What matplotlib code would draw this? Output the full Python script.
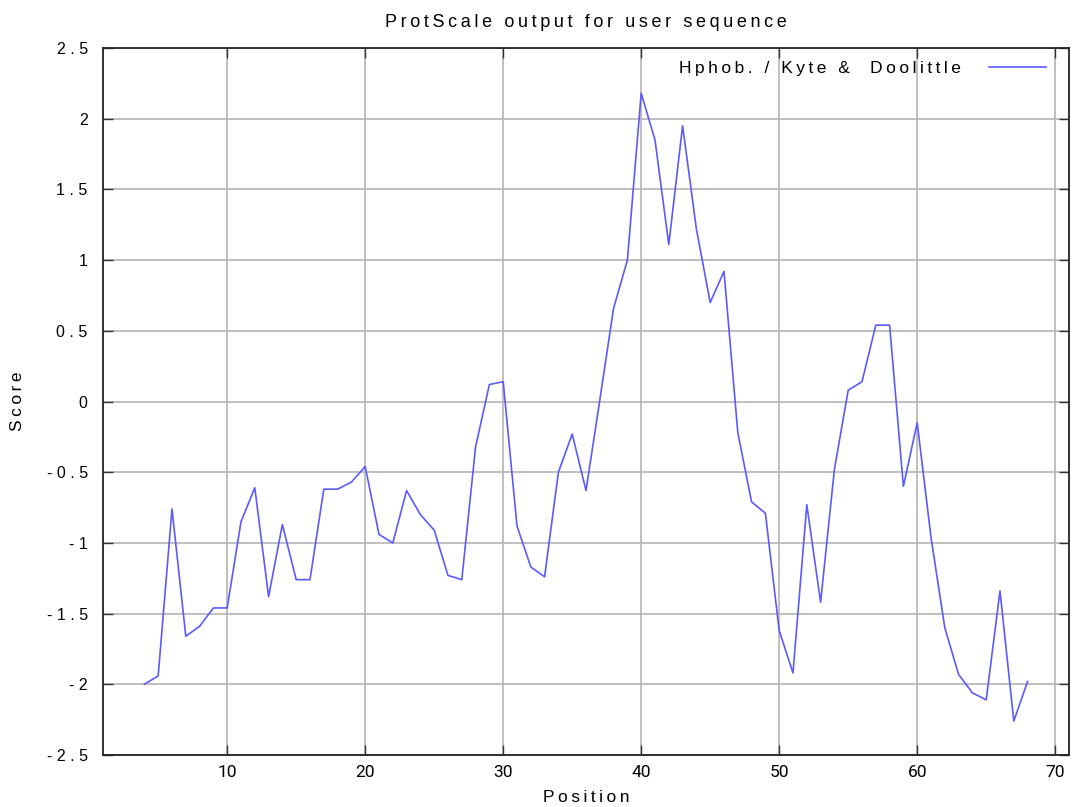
import matplotlib
matplotlib.use("Agg")
import matplotlib.pyplot as plt
from matplotlib.ticker import FixedLocator

# ---- data ----
positions = [4, 5, 6, 7, 8, 9, 10, 11, 12, 13, 14, 15, 16, 17, 18, 19, 20,
             21, 22, 23, 24, 25, 26, 27, 28, 29, 30, 31, 32, 33, 34, 35, 36,
             37, 38, 39, 40, 41, 42, 43, 44, 45, 46, 47, 48, 49, 50, 51, 52,
             53, 54, 55, 56, 57, 58, 59, 60, 61, 62, 63, 64, 65, 66, 67, 68]
scores = [-2.00, -1.94, -0.76, -1.66, -1.59, -1.46, -1.46, -0.85, -0.61, -1.38,
          -0.87, -1.26, -1.26, -0.62, -0.62, -0.57, -0.46, -0.94, -1.00, -0.63,
          -0.80, -0.91, -1.23, -1.26, -0.32, 0.12, 0.14, -0.88, -1.17, -1.24,
          -0.50, -0.23, -0.63, 0.01, 0.66, 1.00, 2.18, 1.85, 1.11, 1.95,
          1.22, 0.70, 0.92, -0.22, -0.71, -0.79, -1.62, -1.92, -0.73, -1.42,
          -0.48, 0.08, 0.14, 0.54, 0.54, -0.60, -0.15, -0.96, -1.60, -1.93,
          -2.06, -2.11, -1.34, -2.26, -1.98]
x_ticks = [10, 20, 30, 40, 50, 60, 70]
y_ticks = [2.5, 2.0, 1.5, 1.0, 0.5, 0.0, -0.5, -1.0, -1.5, -2.0, -2.5]
y_tick_labels = ["2.5", "2", "1.5", "1", "0.5", "0", "-0.5", "-1", "-1.5", "-2", "-2.5"]
title = "ProtScale output for user sequence"
x_label = "Position"
y_label = "Score"
series_label = "Hphob. / Kyte &  Doolittle"

SP = "\u2009"
FAM = ["Liberation Sans", "DejaVu Sans"]


def spaced(s):
    return SP.join(list(s))


W, H = 1075, 807
fig = plt.figure(figsize=(W / 100, H / 100), dpi=100)
left, right, top, bottom = 103, 1069, 48, 755
ax = fig.add_axes([left / W, 1 - bottom / H, (right - left) / W, (bottom - top) / H])

line, = ax.plot(positions, scores, color="#5a5aff", lw=1.2, label=spaced(series_label))

ax.set_xlim(1, 71)
ax.set_ylim(-2.5, 2.5)
ax.xaxis.set_major_locator(FixedLocator(x_ticks))
ax.yaxis.set_major_locator(FixedLocator(y_ticks))
ax.set_xticklabels([str(v) for v in x_ticks], fontsize=12.5, family=["Roboto", "DejaVu Sans"])
ax.set_yticklabels([" ".join(list(t)) for t in y_tick_labels], fontsize=11.5, family=FAM)

ax.grid(True, color="#b4b4b4", lw=1.2)
ax.set_axisbelow(True)
ax.tick_params(axis="both", which="major", direction="in", length=7, width=1.0,
               color="#333333", top=True, right=True)
ax.tick_params(axis="y", pad=11)
ax.tick_params(axis="x", pad=7)
for s in ax.spines.values():
    s.set_linewidth(1.3)
    s.set_color("#222222")

ax.set_title(spaced(title), fontsize=13, family=FAM, pad=15)
ax.set_xlabel(spaced(x_label), fontsize=12.5, family=FAM)
ax.xaxis.set_label_coords(0.5, -(798 - bottom) / (bottom - top))
ax.xaxis.label.set_va("center")
ax.set_ylabel(spaced(y_label), fontsize=12.5, family=FAM)
ax.yaxis.set_label_coords((18 - left) / (right - left), 0.5)
ax.yaxis.label.set_va("center")

leg = ax.legend(loc="upper right", bbox_to_anchor=(1 - 23 / (right - left), 1 - 13 / (bottom - top)),
                frameon=False, markerfirst=False, handlelength=3.3, handletextpad=1.6,
                borderaxespad=0, borderpad=0, prop={"family": FAM, "size": 12.5})

fig.savefig("out.png", dpi=100)
